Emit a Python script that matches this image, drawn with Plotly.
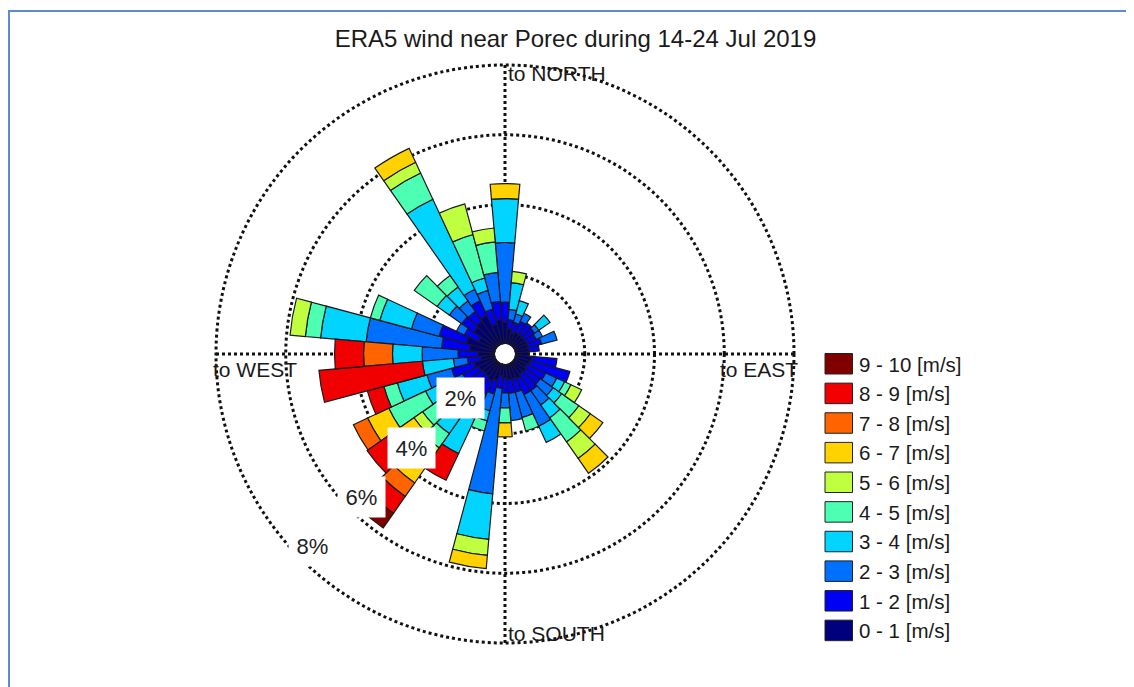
import math
import plotly.graph_objects as go

# ---------------- data ----------------
directions = list(range(0, 360, 10))  # direction the wind blows TO, degrees clockwise from north

speed_bins = ["0 - 1 [m/s]", "1 - 2 [m/s]", "2 - 3 [m/s]", "3 - 4 [m/s]", "4 - 5 [m/s]",
              "5 - 6 [m/s]", "6 - 7 [m/s]", "7 - 8 [m/s]", "8 - 9 [m/s]", "9 - 10 [m/s]"]
bin_colors = ["#00007f", "#0000f2", "#0070ff", "#00d4ff", "#4dffb3",
              "#bfff40", "#ffd200", "#ff6400", "#f00000", "#800000"]

# frequency (%) per direction for each speed bin
freq_0_1 = [0.63, 0.45, 0.35, 0.40, 0.40, 0.40, 0.40, 0.40, 0.40, 0.40, 0.50, 0.45,
            0.40, 0.45, 0.43, 0.50, 0.45, 0.45, 0.40, 0.35, 0.50, 0.57, 0.50, 0.50,
            0.55, 0.63, 0.40, 0.49, 0.73, 0.86, 0.55, 0.80, 0.86, 0.94, 0.60, 0.71]
freq_1_2 = [0.57, 0.25, 0.30, 0.35, 0.40, 0.35, 0.30, 0.40, 0.30, 0.00, 0.71, 1.19,
            0.60, 0.50, 0.57, 0.50, 0.40, 0.40, 0.43, 0.35, 0.40, 0.43, 0.50, 0.45,
            0.50, 0.67, 0.40, 0.57, 0.81, 0.81, 0.45, 0.43, 0.34, 0.46, 0.45, 0.52]
freq_2_3 = [1.71, 0.30, 0.25, 0.25, 0.00, 0.15, 0.20, 0.46, 0.00, 0.00, 0.00, 0.00,
            0.35, 0.45, 0.50, 1.00, 0.75, 0.78, 0.43, 3.04, 0.50, 0.77, 0.60, 0.55,
            0.60, 0.73, 0.40, 1.03, 2.17, 0.82, 0.25, 0.43, 0.37, 0.36, 0.55, 0.83]
freq_3_4 = [1.26, 0.77, 0.40, 0.00, 0.00, 0.39, 0.00, 0.00, 0.00, 0.00, 0.00, 0.00,
            0.25, 0.30, 0.45, 0.51, 0.00, 0.00, 0.00, 1.31, 0.30, 1.09, 0.90, 0.60,
            0.58, 0.88, 0.89, 0.85, 1.31, 0.94, 0.00, 0.43, 0.49, 2.85, 0.37, 0.00]
freq_4_5 = [0.00, 0.00, 0.00, 0.00, 0.00, 0.00, 0.00, 0.00, 0.00, 0.00, 0.00, 0.00,
            0.20, 0.60, 0.84, 0.00, 0.40, 0.00, 0.43, 0.00, 0.30, 0.00, 0.50, 0.50,
            1.16, 0.40, 0.00, 0.00, 0.44, 0.28, 0.00, 0.80, 0.40, 0.83, 1.29, 0.88]
freq_5_6 = [0.00, 0.32, 0.00, 0.00, 0.00, 0.00, 0.00, 0.00, 0.00, 0.00, 0.00, 0.00,
            0.34, 0.40, 0.58, 0.00, 0.00, 0.00, 0.00, 0.46, 0.00, 0.00, 0.40, 0.30,
            0.00, 0.00, 0.00, 0.00, 0.44, 0.00, 0.00, 0.00, 0.00, 0.34, 0.91, 0.40]
freq_6_7 = [0.43, 0.00, 0.00, 0.00, 0.00, 0.00, 0.00, 0.00, 0.00, 0.00, 0.00, 0.00,
            0.00, 0.44, 0.52, 0.00, 0.00, 0.00, 0.40, 0.38, 0.00, 0.00, 0.83, 0.70,
            0.67, 0.00, 0.00, 0.00, 0.00, 0.00, 0.00, 0.00, 0.00, 0.44, 0.00, 0.00]
freq_7_8 = [0.00, 0.00, 0.00, 0.00, 0.00, 0.00, 0.00, 0.00, 0.00, 0.00, 0.00, 0.00,
            0.00, 0.00, 0.00, 0.00, 0.00, 0.00, 0.00, 0.00, 0.00, 0.00, 0.47, 0.20,
            0.45, 0.00, 0.00, 0.83, 0.00, 0.00, 0.00, 0.00, 0.00, 0.00, 0.00, 0.00]
freq_8_9 = [0.00, 0.00, 0.00, 0.00, 0.00, 0.00, 0.00, 0.00, 0.00, 0.00, 0.00, 0.00,
            0.00, 0.00, 0.00, 0.00, 0.00, 0.00, 0.00, 0.00, 0.00, 0.85, 0.59, 0.74,
            0.00, 0.49, 2.98, 0.83, 0.00, 0.00, 0.00, 0.00, 0.00, 0.00, 0.00, 0.00]
freq_9_10 = [0.00, 0.00, 0.00, 0.00, 0.00, 0.00, 0.00, 0.00, 0.00, 0.00, 0.00, 0.00,
             0.00, 0.00, 0.00, 0.00, 0.00, 0.00, 0.00, 0.00, 0.00, 0.00, 0.51, 0.00,
             0.00, 0.00, 0.00, 0.00, 0.00, 0.00, 0.00, 0.00, 0.00, 0.00, 0.00, 0.00]

ring_values = [2, 4, 6, 8]
ring_labels = ["2%", "4%", "6%", "8%"]
title_text = "ERA5 wind near Porec during 14-24 Jul 2019"

# ---------------- layout geometry (screen pixels) ----------------
OFF = 8                    # the page body margin shifts the figure by 8 px
W, H = 1134 - OFF, 687 - OFF
CX, CY = 505, 354          # centre of the rose on screen
HOLE_PX = 10               # radius of the white centre hole
R8_PX = 289                # radius of the 8 % ring
RMAX = 8.04                # radial range (slightly above last ring so it is drawn)
RD = HOLE_PX + (R8_PX - HOLE_PX) * RMAX / 8.0   # domain radius
FONT = "Liberation Sans, Arial, Helvetica, sans-serif"
TXT = "#1a1a1a"


def px_to_paper(x, y):
    return (x - OFF) / W, 1 - (y - OFF) / H


def ring_px(v):
    return HOLE_PX + (RD - HOLE_PX) * v / RMAX


fig = go.Figure()

series = [freq_0_1, freq_1_2, freq_2_3, freq_3_4, freq_4_5,
          freq_5_6, freq_6_7, freq_7_8, freq_8_9, freq_9_10]
for name, color, vals in zip(speed_bins, bin_colors, series):
    fig.add_trace(go.Barpolar(
        theta=directions,
        r=[v if v > 0 else None for v in vals],
        width=10,
        name=name,
        marker=dict(color=color, line=dict(color="#1a1a1a", width=1.2)),
        showlegend=False,
        hovertemplate="%{theta}°: %{r:.2f}%<extra>" + name + "</extra>",
    ))

dx0, dy0 = px_to_paper(CX - RD, CY + RD)
dx1, dy1 = px_to_paper(CX + RD, CY - RD)

annotations = []
shapes = []

# compass labels
lab_font = dict(family=FONT, size=21, color=TXT)
nx, ny = px_to_paper(CX + 1, CY - R8_PX + 9)
annotations.append(dict(text="to NORTH", x=nx, y=ny, xref="paper", yref="paper",
                        xanchor="left", yanchor="middle", showarrow=False, font=lab_font))
sx, sy = px_to_paper(CX + 1, CY + R8_PX - 10)
annotations.append(dict(text="to SOUTH", x=sx, y=sy, xref="paper", yref="paper",
                        xanchor="left", yanchor="middle", showarrow=False, font=lab_font))
wx, wy = px_to_paper(CX - R8_PX - 5, CY + 15)
annotations.append(dict(text="to WEST", x=wx, y=wy, xref="paper", yref="paper",
                        xanchor="left", yanchor="middle", showarrow=False, font=lab_font))
ex, ey = px_to_paper(CX + R8_PX + 6, CY + 15)
annotations.append(dict(text="to EAST", x=ex, y=ey, xref="paper", yref="paper",
                        xanchor="right", yanchor="middle", showarrow=False, font=lab_font))

# ring labels in white boxes along the south-west direction
ang = math.radians(225)
for v, t in zip(ring_values, ring_labels):
    r = ring_px(v) - 17
    x = CX + r * math.sin(ang)
    y = CY - r * math.cos(ang)
    px_, py_ = px_to_paper(x, y)
    annotations.append(dict(text=t, x=px_, y=py_, xref="paper", yref="paper",
                            xanchor="center", yanchor="middle", showarrow=False,
                            bgcolor="white", width=45, height=38, borderpad=1,
                            font=dict(family=FONT, size=22, color="#222222")))

# manual legend (top entry = fastest bin)
LEG_X0, LEG_Y0, LEG_DY = 825, 353.5, 29.63
for i in range(len(speed_bins)):
    k = len(speed_bins) - 1 - i
    top = LEG_Y0 + i * LEG_DY
    x0, y0 = px_to_paper(LEG_X0, top)
    x1, y1 = px_to_paper(LEG_X0 + 27.5, top + 20.5)
    shapes.append(dict(type="rect", xref="paper", yref="paper", x0=x0, x1=x1, y0=y1, y1=y0,
                       fillcolor=bin_colors[k], line=dict(color="#222222", width=1)))
    tx, ty = px_to_paper(LEG_X0 + 32, top + 10.5)
    annotations.append(dict(text=speed_bins[k], x=tx, y=ty, xref="paper", yref="paper",
                            xanchor="left", yanchor="middle", showarrow=False,
                            font=dict(family=FONT, size=20.5, color=TXT)))

# outer blue frame of the figure window
fx0, fy0 = px_to_paper(9, 11)
fx1, _ = px_to_paper(1131, 11)
shapes.append(dict(type="rect", xref="paper", yref="paper", x0=fx0, x1=fx1, y0=-0.2, y1=fy0,
                   line=dict(color="#5b8bd0", width=2), fillcolor="rgba(0,0,0,0)", layer="above"))

tx, ty = px_to_paper(575.5, 39)
fig.update_layout(
    width=W, height=H, autosize=False,
    margin=dict(l=0, r=0, t=0, b=0),
    paper_bgcolor="white",
    title=dict(text=title_text, x=tx, y=ty, xref="paper", yref="paper",
               xanchor="center", yanchor="middle",
               font=dict(family=FONT, size=24, color=TXT)),
    polar=dict(
        domain=dict(x=[dx0, dx1], y=[dy0, dy1]),
        hole=HOLE_PX / RD,
        bgcolor="white",
        barmode="stack",
        bargap=0,
        radialaxis=dict(range=[0, RMAX], tickvals=ring_values, showticklabels=False,
                        ticks="", showline=False, showgrid=True, gridcolor="#111111",
                        gridwidth=2.6, griddash="dot"),
        angularaxis=dict(rotation=90, direction="clockwise", tickvals=[0, 90, 180, 270],
                         showticklabels=False, ticks="", showline=False, showgrid=True,
                         gridcolor="#111111", gridwidth=2.6, griddash="dot"),
    ),
    annotations=annotations,
    shapes=shapes,
    showlegend=False,
)

fig.write_html("out.html")
